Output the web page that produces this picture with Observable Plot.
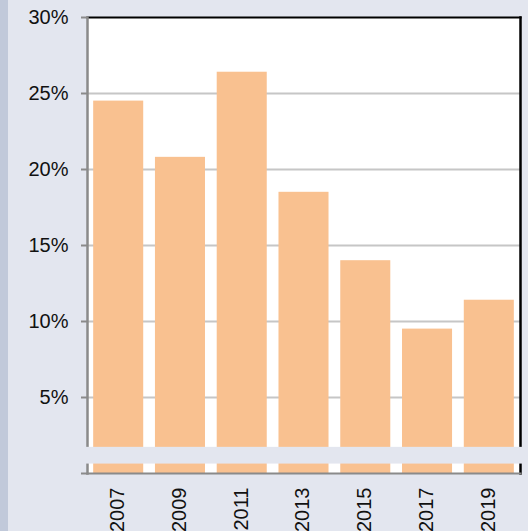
<!DOCTYPE html>
<html>
<head>
<meta charset="utf-8">
<script src="https://cdn.jsdelivr.net/npm/d3@7"></script>
<script src="https://cdn.jsdelivr.net/npm/@observablehq/plot@0.6"></script>
<style>
  html, body { margin: 0; padding: 0; background: #e3e6ef; width: 528px; height: 531px; overflow: hidden; }
  #strip { position: absolute; left: 0; top: 0; width: 8px; height: 531px; background: #c1c9da; }
  #chart { position: absolute; left: 0; top: 0; }
</style>
</head>
<body>
<div id="strip"></div>
<div id="chart"></div>
<script>
const years = ["2007", "2009", "2011", "2013", "2015", "2017", "2019"];
const values = [24.5, 20.8, 26.4, 18.5, 14.0, 9.5, 11.4];
const yTicks = [0, 5, 10, 15, 20, 25, 30];
const gridTicks = [5, 10, 15, 20, 25];
const axisBreak = [0.62, 1.72];

const data = years.map((year, i) => ({year, value: values[i]}));
const bg = "#e3e6ef";

const plot = Plot.plot({
  width: 528,
  height: 531,
  marginLeft: 87,
  marginRight: 8,
  marginTop: 17,
  marginBottom: 58,
  style: {background: "transparent", fontFamily: "'Liberation Sans', Arial, sans-serif", fontSize: "20px", color: "#111"},
  x: {type: "band", domain: years, paddingInner: 0.19, paddingOuter: 0.1, round: false, label: null},
  y: {domain: [0, 30], label: null},
  marks: [
    Plot.frame({fill: "white", stroke: null}),
    Plot.ruleY(gridTicks, {stroke: "#c6c6c6", strokeWidth: 2}),
    Plot.barY(data, {x: "year", y: "value", fill: "#f9c190"}),
    Plot.frame({anchor: "top", stroke: "#000", strokeWidth: 2}),
    Plot.frame({anchor: "right", stroke: "#000", strokeWidth: 2.5}),
    Plot.frame({anchor: "left", stroke: "#8a8a8a", strokeWidth: 2.5}),
    Plot.frame({anchor: "bottom", stroke: "#8a8a8a", strokeWidth: 2}),
    Plot.axisY({
      ticks: yTicks,
      tickSize: 6,
      tickPadding: 13,
      stroke: "#8a8a8a",
      strokeWidth: 2,
      tickFormat: d => d === 0 ? "" : d + "%",
      fontSize: 20,
      fill: "#111",
      label: null
    }),
    Plot.axisX({
      tickSize: 0,
      tickPadding: 14,
      tickRotate: -90,
      fontSize: 20,
      dx: -1,
      fill: "#111",
      label: null
    }),
    Plot.rect([axisBreak], {y1: d => d[0], y2: d => d[1], fill: bg, insetLeft: -5, insetRight: -5})
  ]
});
document.getElementById("chart").appendChild(plot);
</script>
</body>
</html>
